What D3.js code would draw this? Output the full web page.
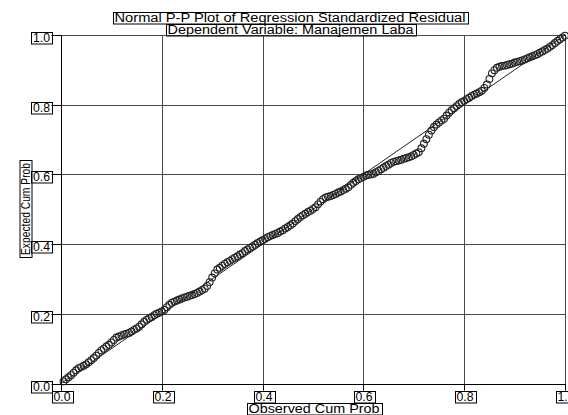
<!DOCTYPE html>
<html>
<head>
<meta charset="utf-8">
<script src="https://cdn.jsdelivr.net/npm/d3@7"></script>
<style>
body { margin: 0; background: #fff; }
text { font-family: "Liberation Sans", Arial, sans-serif; fill: #000; }
</style>
</head>
<body>
<div id="chart"></div>
<script>
// texts
var titleLines = ["Normal P-P Plot of Regression Standardized Residual", "Dependent Variable: Manajemen Laba"];
var xTitle = "Observed Cum Prob";
var yTitle = "Expected Cum Prob";
var tickValues = [0, 0.2, 0.4, 0.6, 0.8, 1.0];

// data: observed cum prob vs expected cum prob
var observed = [
  0.005,0.010,0.015,0.020,0.025,0.030,0.035,0.040,0.045,0.050,
  0.055,0.060,0.065,0.070,0.075,0.080,0.085,0.090,0.095,0.100,
  0.105,0.110,0.115,0.120,0.125,0.130,0.135,0.140,0.145,0.150,
  0.155,0.160,0.165,0.170,0.175,0.180,0.185,0.190,0.195,0.200,
  0.205,0.210,0.215,0.220,0.225,0.230,0.235,0.240,0.245,0.250,
  0.255,0.260,0.265,0.270,0.275,0.280,0.285,0.290,0.295,0.300,
  0.305,0.310,0.315,0.320,0.325,0.330,0.335,0.340,0.345,0.350,
  0.355,0.360,0.365,0.370,0.375,0.380,0.385,0.390,0.395,0.400,
  0.405,0.410,0.415,0.420,0.425,0.430,0.435,0.440,0.445,0.450,
  0.455,0.460,0.465,0.470,0.475,0.480,0.485,0.490,0.495,0.500,
  0.505,0.510,0.515,0.520,0.525,0.530,0.535,0.540,0.545,0.550,
  0.555,0.560,0.565,0.570,0.575,0.580,0.585,0.590,0.595,0.600,
  0.605,0.610,0.615,0.620,0.625,0.630,0.635,0.640,0.645,0.650,
  0.655,0.660,0.665,0.670,0.675,0.680,0.685,0.690,0.695,0.700,
  0.705,0.710,0.715,0.720,0.725,0.730,0.735,0.740,0.745,0.750,
  0.755,0.760,0.765,0.770,0.775,0.780,0.785,0.790,0.795,0.800,
  0.805,0.810,0.815,0.820,0.825,0.830,0.835,0.840,0.845,0.850,
  0.855,0.860,0.865,0.870,0.875,0.880,0.885,0.890,0.895,0.900,
  0.905,0.910,0.915,0.920,0.925,0.930,0.935,0.940,0.945,0.950,
  0.955,0.960,0.965,0.970,0.975,0.980,0.985,0.990,0.995,1.000
];
var expected = [
  0.006,0.012,0.018,0.024,0.031,0.038,0.044,0.047,0.051,0.055,
  0.061,0.067,0.073,0.080,0.088,0.095,0.100,0.106,0.111,0.118,
  0.125,0.132,0.135,0.138,0.141,0.143,0.145,0.149,0.154,0.158,
  0.163,0.170,0.177,0.183,0.187,0.191,0.196,0.200,0.203,0.207,
  0.211,0.219,0.226,0.232,0.235,0.238,0.241,0.244,0.247,0.249,
  0.252,0.254,0.257,0.260,0.264,0.268,0.272,0.280,0.291,0.304,
  0.316,0.327,0.332,0.338,0.343,0.348,0.352,0.357,0.361,0.365,
  0.370,0.374,0.380,0.385,0.389,0.393,0.398,0.403,0.407,0.411,
  0.415,0.420,0.423,0.426,0.429,0.432,0.436,0.440,0.445,0.449,
  0.454,0.459,0.466,0.472,0.478,0.483,0.487,0.492,0.496,0.501,
  0.506,0.514,0.522,0.529,0.534,0.536,0.538,0.541,0.544,0.548,
  0.551,0.555,0.559,0.563,0.570,0.576,0.581,0.586,0.590,0.593,
  0.597,0.599,0.600,0.602,0.606,0.610,0.615,0.619,0.624,0.628,
  0.633,0.636,0.638,0.640,0.642,0.645,0.647,0.649,0.652,0.656,
  0.660,0.664,0.675,0.688,0.701,0.714,0.726,0.736,0.743,0.749,
  0.755,0.760,0.769,0.777,0.784,0.790,0.796,0.802,0.807,0.811,
  0.816,0.820,0.825,0.829,0.832,0.836,0.840,0.848,0.858,0.874,
  0.890,0.899,0.906,0.909,0.911,0.912,0.914,0.916,0.918,0.921,
  0.923,0.925,0.927,0.930,0.933,0.936,0.939,0.942,0.945,0.949,
  0.953,0.957,0.961,0.966,0.971,0.977,0.983,0.988,0.993,0.998
];

var width = 568, height = 415;
var svg = d3.select("#chart").append("svg")
    .attr("width", width)
    .attr("height", height);

var xScale = d3.scaleLinear().domain([0, 1]).range([61, 565]);
var yScale = d3.scaleLinear().domain([0, 1]).range([383.5, 35]);
var fmt = d3.format(".1f");
function px(v) { return Math.round(v) + 0.5; }

// text with a thin box round it (spss style)
function boxText(g, x, y, str, len, pad) {
    var t = g.append("text")
        .attr("x", x).attr("y", y)
        .attr("text-anchor", "middle")
        .attr("font-size", 12)
        .text(str);
    if (len) t.attr("textLength", len).attr("lengthAdjust", "spacingAndGlyphs");
    var w = len ? len : t.node().getComputedTextLength();
    g.append("rect")
        .attr("x", px(x - w / 2 - pad))
        .attr("y", px(y - 10.5))
        .attr("width", Math.round(w + 2 * pad))
        .attr("height", 11.5)
        .attr("fill", "none")
        .attr("stroke", "#000");
    return t;
}

// gridlines
var grid = svg.append("g");
grid.selectAll("line.v").data(tickValues).enter().append("line")
    .attr("x1", function(d) { return px(xScale(d)); })
    .attr("x2", function(d) { return px(xScale(d)); })
    .attr("y1", yScale(1)).attr("y2", yScale(0))
    .attr("stroke", "#4a4a4a");
grid.selectAll("line.h").data(tickValues).enter().append("line")
    .attr("y1", function(d) { return px(yScale(d)); })
    .attr("y2", function(d) { return px(yScale(d)); })
    .attr("x1", xScale(0)).attr("x2", xScale(1))
    .attr("stroke", "#4a4a4a");

// axes lines
svg.append("line").attr("x1", px(xScale(0))).attr("x2", px(xScale(0)))
    .attr("y1", yScale(1)).attr("y2", yScale(0) + 7).attr("stroke", "#000");
svg.append("line").attr("x1", xScale(0) - 9).attr("x2", xScale(1))
    .attr("y1", px(yScale(0))).attr("y2", px(yScale(0))).attr("stroke", "#000");

// tick marks + boxed labels
var yt = svg.append("g");
tickValues.forEach(function(d) {
    var yy = px(yScale(d));
    yt.append("line").attr("x1", 51.5).attr("x2", xScale(0)).attr("y1", yy).attr("y2", yy).attr("stroke", "#000");
    boxText(yt, 41.5, yy + 6.5, fmt(d), 17, 2);
});
var xt = svg.append("g");
tickValues.forEach(function(d) {
    var xx = px(xScale(d));
    xt.append("line").attr("x1", xx).attr("x2", xx).attr("y1", yScale(0)).attr("y2", 390.5).attr("stroke", "#000");
    boxText(xt, xx + 0.5, 401, fmt(d), 17, 2);
});

// titles
boxText(svg, 290, 22, titleLines[0], 351, 2);
boxText(svg, 290.5, 34, titleLines[1], 246, 2);
boxText(svg, 314, 413, xTitle, 131, 2);

var yg = svg.append("g").attr("transform", "translate(30,209) rotate(-90)");
yg.append("text").attr("x", 0).attr("y", 0)
    .attr("text-anchor", "middle").attr("font-size", 12)
    .attr("textLength", 92).attr("lengthAdjust", "spacingAndGlyphs")
    .text(yTitle);
yg.append("rect").attr("x", -48.5).attr("y", -10).attr("width", 97).attr("height", 12)
    .attr("fill", "none").attr("stroke", "#000");

// reference diagonal
svg.append("line")
    .attr("x1", xScale(0)).attr("y1", yScale(0))
    .attr("x2", xScale(1)).attr("y2", yScale(1))
    .attr("stroke", "#222").attr("stroke-width", 1);

// points
svg.append("g").selectAll("circle").data(observed).enter().append("circle")
    .attr("cx", function(d) { return xScale(d); })
    .attr("cy", function(d, i) { return yScale(expected[i]); })
    .attr("r", 3.4)
    .attr("fill", "none")
    .attr("stroke", "#222")
    .attr("stroke-width", 1.1);
</script>
</body>
</html>
